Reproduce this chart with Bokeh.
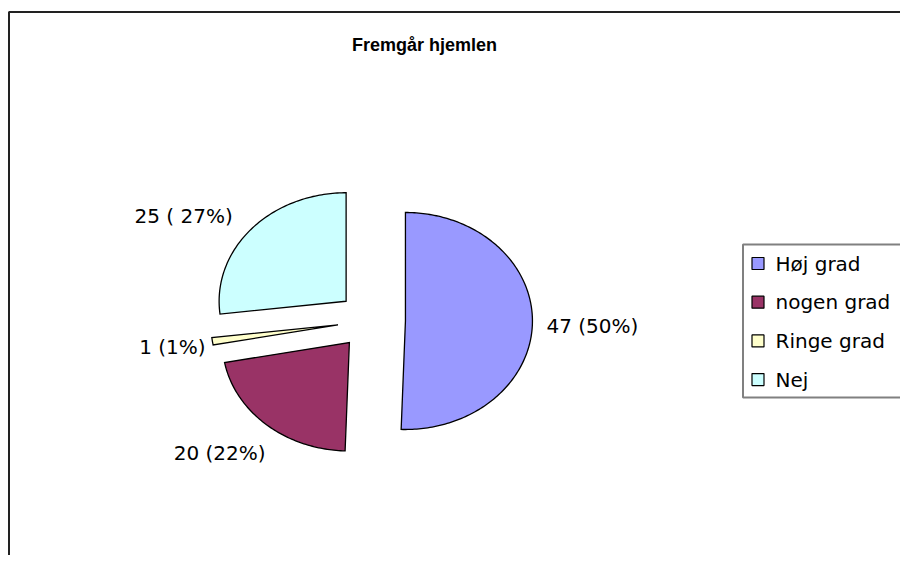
import math
from bokeh.plotting import figure
from bokeh.models import Range1d, ColumnDataSource
from bokeh.core.properties import value
from bokeh.embed import file_html
from bokeh.resources import INLINE

# ---- data ----
categories = ["Høj grad", "nogen grad", "Ringe grad", "Nej"]
counts = [47, 20, 1, 25]
pct_labels = ["47 (50%)", "20 (22%)", "1 (1%)", "25 ( 27%)"]
colors = ["#9999FF", "#993366", "#FFFFCC", "#CCFFFF"]
title_text = "Fremgår hjemlen"

# ---- layout (picture pixel coords converted to plot space, y up) ----
W, H = 900, 555
def sx(X):
    return X
def sy(Y):
    return H - Y

CX, CY = 371, 320          # pie centre (picture pixels)
RX, RY = 127, 108.5        # pie is drawn slightly stretched horizontally
EXPLODE = 29               # explosion offset (vertical pixels)
GAP = 14                   # label gap beyond rim
# small label nudges (picture pixels, +y = down) to mimic the spreadsheet placement
label_nudge = [(0, 3), (8, 18), (7, 4), (-8, -4)]

p = figure(width=W, height=H, output_backend="svg", toolbar_location=None,
           x_range=Range1d(0, W), y_range=Range1d(0, H), min_border=0)
p.axis.visible = False
p.grid.visible = False
p.outline_line_color = None
p.background_fill_color = "white"

# chart frame
p.quad(left=sx(8.5), right=W + 20, top=sy(11.5), bottom=-20, fill_color=None,
       line_color="#222222", line_width=2)

total = sum(counts)
SXF = RX / RY
px_list, py_list = [], []
lx, ly, aligns = [], [], []
acc = 0.0
for i, c in enumerate(counts):
    a0 = acc / total * 2 * math.pi           # clockwise from 12 o'clock
    a1 = (acc + c) / total * 2 * math.pi
    mid = (a0 + a1) / 2
    s, co = math.sin(mid), math.cos(mid)
    ax = CX + SXF * EXPLODE * s
    ay = CY - EXPLODE * co
    n = max(4, int((a1 - a0) / (2 * math.pi) * 360))
    xs = [sx(ax)]
    ys = [sy(ay)]
    for k in range(n + 1):
        t = a0 + (a1 - a0) * k / n
        xs.append(sx(ax + RX * math.sin(t)))
        ys.append(sy(ay - RY * math.cos(t)))
    px_list.append(xs)
    py_list.append(ys)
    # label anchor: rim point along the mid direction, plus a gap
    rimx = ax + RX * s
    rimy = ay - RY * co
    nx, ny = label_nudge[i]
    lx.append(sx(rimx + GAP * s + nx))
    ly.append(sy(rimy - GAP * co + ny))
    aligns.append("left" if s > 0 else "right")
    acc += c

src = ColumnDataSource(dict(xs=px_list, ys=py_list, color=colors))
p.patches(xs="xs", ys="ys", fill_color="color", line_color="black",
          line_width=1.3, line_join="miter", source=src)

lsrc = ColumnDataSource(dict(x=lx, y=ly, t=pct_labels, a=aligns))
p.text(x="x", y="y", text="t", text_align="a", text_baseline="middle",
       text_font=value("DejaVu Sans"), text_font_size="20px",
       text_color="black", source=lsrc)

# title
p.text(x=[sx(424)], y=[sy(44)], text=[title_text], text_align="center",
       text_baseline="middle", text_font=value("Liberation Sans"),
       text_font_size="18px", text_font_style="bold", text_color="black")

# legend
p.quad(left=sx(742.5), right=W + 20, top=sy(244), bottom=sy(397),
       fill_color="white", line_color="#808080", line_width=2)
leg_y = [sy(263 + 38.7 * i) for i in range(len(categories))]
p.rect(x=[sx(757.5)] * len(categories), y=leg_y, width=12, height=12,
       fill_color=colors, line_color="black", line_width=1.2)
p.text(x=[sx(775)] * len(categories), y=leg_y, text=categories,
       text_align="left", text_baseline="middle",
       text_font=value("DejaVu Sans"), text_font_size="20px",
       text_color="black")

open("out.html", "w").write(file_html(p, INLINE))
